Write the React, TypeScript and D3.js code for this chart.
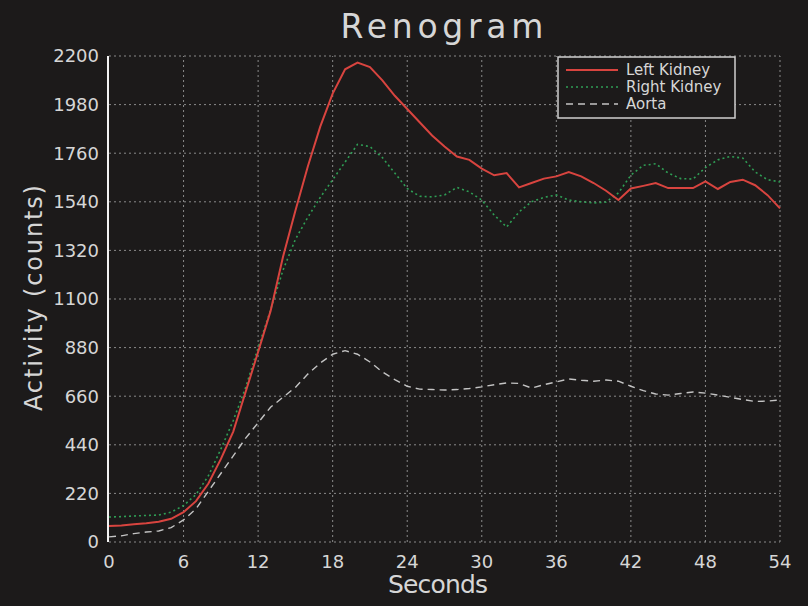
import { useRef, useEffect } from "react";
import * as d3 from "d3";

// seconds, one sample per second
const seconds = d3.range(0, 55);

const leftKidney = [
  72, 75, 80, 85, 92, 105, 135, 185, 265, 375, 500, 680, 860, 1045, 1290, 1500, 1700, 1880, 2030, 2140,
  2170, 2150, 2090, 2020, 1960, 1900, 1840, 1790, 1745, 1730, 1690, 1660, 1670, 1605, 1625, 1645, 1655, 1675, 1655, 1625,
  1590, 1548, 1600, 1612, 1625, 1602, 1602, 1602, 1632, 1598, 1630, 1640, 1615, 1570, 1510,
];

const rightKidney = [
  113, 115, 118, 120, 122, 135, 165, 215, 300, 420, 550, 700, 880, 1050, 1230, 1370, 1470, 1560, 1640, 1720,
  1800, 1790, 1740, 1670, 1600, 1565, 1562, 1571, 1605, 1585, 1548, 1480, 1426, 1494, 1540, 1560, 1571, 1548, 1540, 1535,
  1539, 1580, 1661, 1705, 1712, 1670, 1645, 1643, 1695, 1730, 1745, 1738, 1675, 1640, 1630,
];

const aorta = [
  23, 28, 38, 45, 50, 65, 100, 150, 230, 310, 390, 470, 540, 610, 655, 700, 760, 810, 850, 866,
  850, 815, 770, 735, 705, 692, 690, 688, 690, 695, 702, 712, 720, 718, 697, 712, 725, 738, 732, 728,
  733, 728, 705, 685, 670, 665, 672, 679, 674, 665, 655, 645, 636, 638, 643,
];

const xTicks = [0, 6, 12, 18, 24, 30, 36, 42, 48, 54];
const yTicks = [0, 220, 440, 660, 880, 1100, 1320, 1540, 1760, 1980, 2200];

const seriesNames = ["Left Kidney", "Right Kidney", "Aorta"];

export default function App() {
  const svgRef = useRef<SVGSVGElement>(null);

  useEffect(() => {
    const svg = d3.select(svgRef.current);
    svg.selectAll("*").remove();

    const width = 808;
    const height = 606;
    const margin = { top: 56, right: 28, bottom: 64, left: 109 };
    const font = "'DejaVu Sans', sans-serif";
    const textColor = "#d6d6d6";

    svg.append("rect").attr("width", width).attr("height", height).attr("fill", "#1c1a1a");

    const x = d3.scaleLinear().domain([0, 54]).range([margin.left, width - margin.right]);
    const y = d3.scaleLinear().domain([0, 2200]).range([height - margin.bottom, margin.top]);

    // grid
    const grid = svg.append("g").attr("stroke", "#8a8a8a").attr("stroke-width", 1).attr("stroke-dasharray", "2,3");
    grid.selectAll(".vgrid")
      .data(xTicks.filter(d => d > 0))
      .enter()
      .append("line")
      .attr("x1", d => x(d))
      .attr("x2", d => x(d))
      .attr("y1", y(0))
      .attr("y2", y(2200));
    grid.selectAll(".hgrid")
      .data(yTicks)
      .enter()
      .append("line")
      .attr("x1", x(0))
      .attr("x2", x(54))
      .attr("y1", d => y(d))
      .attr("y2", d => y(d));

    // left axis line
    svg.append("line")
      .attr("x1", x(0) - 1)
      .attr("x2", x(0) - 1)
      .attr("y1", y(0))
      .attr("y2", y(2200))
      .attr("stroke", "#f2f2f2")
      .attr("stroke-width", 2);

    // tick labels
    svg.selectAll(".ylab")
      .data(yTicks)
      .enter()
      .append("text")
      .attr("x", x(0) - 10)
      .attr("y", d => y(d))
      .attr("dy", "0.36em")
      .attr("text-anchor", "end")
      .attr("fill", textColor)
      .style("font-family", font)
      .style("font-size", "18px")
      .text(d => d);

    svg.selectAll(".xlab")
      .data(xTicks)
      .enter()
      .append("text")
      .attr("x", d => x(d))
      .attr("y", y(0) + 26)
      .attr("text-anchor", "middle")
      .attr("fill", textColor)
      .style("font-family", font)
      .style("font-size", "18px")
      .text(d => d);

    // axis titles
    svg.append("text")
      .attr("x", 438)
      .attr("y", 593)
      .attr("text-anchor", "middle")
      .attr("fill", textColor)
      .attr("textLength", 100)
      .style("font-family", font)
      .style("font-size", "25px")
      .text("Seconds");

    svg.append("text")
      .attr("transform", `translate(42,${298}) rotate(-90)`)
      .attr("text-anchor", "middle")
      .attr("fill", textColor)
      .attr("textLength", 226)
      .style("font-family", font)
      .style("font-size", "24px")
      .text("Activity (counts)");

    // title
    svg.append("text")
      .attr("x", 442)
      .attr("y", 38)
      .attr("text-anchor", "middle")
      .attr("fill", textColor)
      .attr("textLength", 203)
      .style("font-family", font)
      .style("font-size", "33px")
      .text("Renogram");

    // lines
    const styles = [
      { values: leftKidney, color: "#d8443f", dash: null, w: 2 },
      { values: rightKidney, color: "#2f9e55", dash: "2,3", w: 1.6 },
      { values: aorta, color: "#c4c4c4", dash: "7,5", w: 1.4 },
    ];

    const line = d3.line<number>()
      .x((d, i) => x(seconds[i]))
      .y(d => y(d));

    styles.slice().reverse().forEach(s => {
      svg.append("path")
        .datum(s.values)
        .attr("fill", "none")
        .attr("stroke", s.color)
        .attr("stroke-width", s.w)
        .attr("stroke-dasharray", s.dash)
        .attr("d", line);
    });

    // legend
    const legend = svg.append("g").attr("transform", "translate(558,57)");
    legend.append("rect")
      .attr("width", 177)
      .attr("height", 61)
      .attr("fill", "#1c1a1a")
      .attr("stroke", "#cfcfcf")
      .attr("stroke-width", 1.5);
    seriesNames.forEach((name, i) => {
      const s = styles[i];
      const yy = 13 + i * 17;
      legend.append("line")
        .attr("x1", 8)
        .attr("x2", 60)
        .attr("y1", yy)
        .attr("y2", yy)
        .attr("stroke", s.color)
        .attr("stroke-width", s.w)
        .attr("stroke-dasharray", s.dash);
      legend.append("text")
        .attr("x", 68)
        .attr("y", yy)
        .attr("dy", "0.36em")
        .attr("fill", textColor)
        .style("font-family", font)
        .style("font-size", "15px")
        .text(name);
    });
  }, []);

  return (
    <svg
      ref={svgRef}
      width={808}
      height={606}
      style={{ position: "absolute", left: 0, top: 0, display: "block" }}
    />
  );
}
